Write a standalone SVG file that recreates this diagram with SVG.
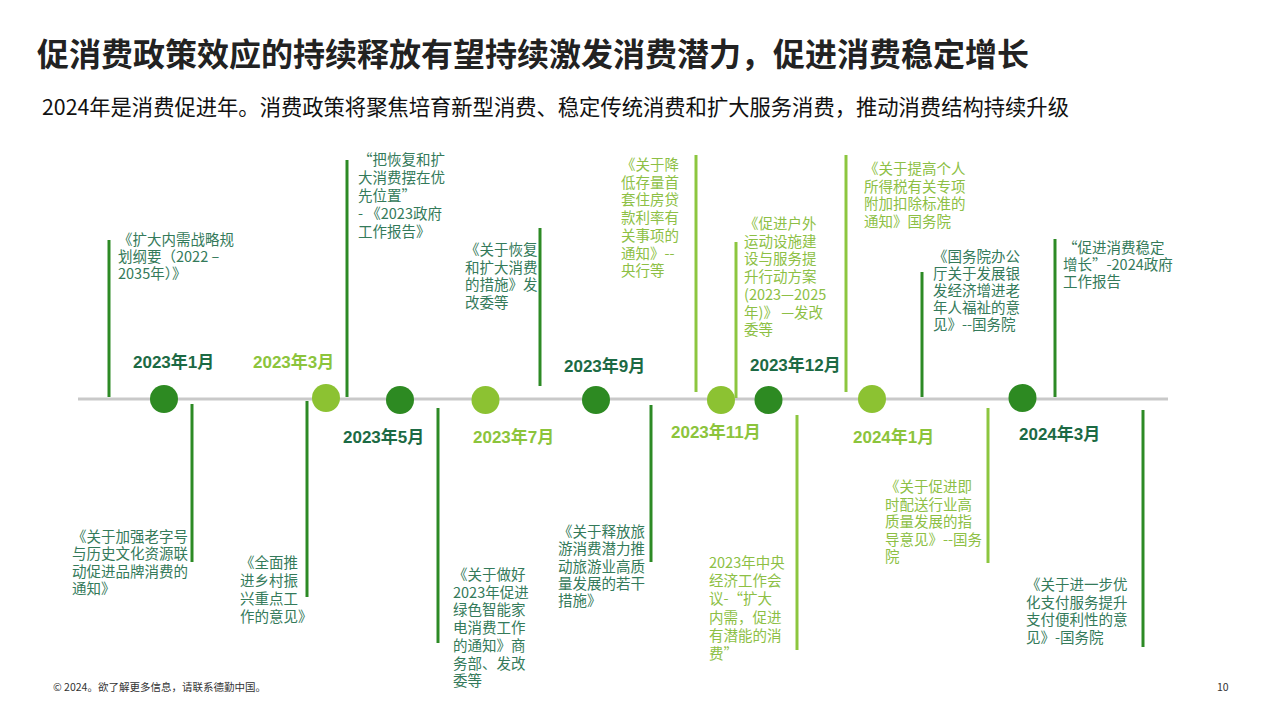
<svg xmlns="http://www.w3.org/2000/svg" width="1280" height="719" viewBox="0 0 1280 719">
<style>
text{font-family:"Noto Sans CJK SC","Liberation Sans",sans-serif}
.title{font-size:32px;font-weight:700;fill:#222}
.sub{font-size:21.3px;fill:#111}
.date{font-family:"Liberation Sans","Noto Sans CJK SC",sans-serif;font-size:17px;font-weight:700}
.dd{fill:#1c6a44}
.dl{fill:#8cc43c}
.ann{font-size:14.5px}
.ad{fill:#347a5a}
.al{fill:#8dbf45}
.cd{fill:#2d8a22}
.cl{fill:#8cc232}
.ld{stroke:#2d8a25;stroke-width:3;fill:none}
.ll{stroke:#8cc63f;stroke-width:3;fill:none}
.foot{font-size:10.5px;fill:#333}
</style>
<rect width="1280" height="719" fill="#fff"/>
<text class="title" x="37" y="66">促消费政策效应的持续释放有望持续激发消费潜力，促进消费稳定增长</text>
<text class="sub" x="42" y="115">2024年是消费促进年。消费政策将聚焦培育新型消费、稳定传统消费和扩大服务消费，推动消费结构持续升级</text>

<line x1="78" y1="399" x2="1168" y2="399" stroke="#c9c9c9" stroke-width="3"/>

<g id="connectors">
<line class="ld" x1="109" y1="240" x2="109" y2="397"/>
<line class="ld" x1="347" y1="160" x2="347" y2="397"/>
<line class="ld" x1="540" y1="228" x2="540" y2="386"/>
<line class="ll" x1="696" y1="155" x2="696" y2="392"/>
<line class="ll" x1="736" y1="242" x2="736" y2="398"/>
<line class="ll" x1="846" y1="155" x2="846" y2="392"/>
<line class="ld" x1="922" y1="272" x2="922" y2="397"/>
<line class="ld" x1="1055" y1="239" x2="1055" y2="397"/>
<line class="ld" x1="192" y1="404" x2="192" y2="562"/>
<line class="ld" x1="307" y1="401" x2="307" y2="597"/>
<line class="ld" x1="438" y1="408" x2="438" y2="643"/>
<line class="ld" x1="651" y1="405" x2="651" y2="562"/>
<line class="ll" x1="797" y1="415" x2="797" y2="650"/>
<line class="ll" x1="988" y1="408" x2="988" y2="563"/>
<line class="ld" x1="1143" y1="410" x2="1143" y2="647"/>
</g>

<g id="n-2023-01"><circle class="cd" cx="164" cy="399" r="14"/><text class="date dd" x="133" y="368">2023年1月</text></g>
<g id="n-2023-03"><circle class="cl" cx="326" cy="398" r="14"/><text class="date dl" x="253" y="368">2023年3月</text></g>
<g id="n-2023-05"><circle class="cd" cx="400" cy="400" r="14"/><text class="date dd" x="343" y="443">2023年5月</text></g>
<g id="n-2023-07"><circle class="cl" cx="485.5" cy="400" r="14"/><text class="date dl" x="473" y="443">2023年7月</text></g>
<g id="n-2023-09"><circle class="cd" cx="596" cy="400" r="14"/><text class="date dd" x="564" y="372">2023年9月</text></g>
<g id="n-2023-11"><circle class="cl" cx="721" cy="400" r="14"/><text class="date dl" x="671" y="438">2023年11月</text></g>
<g id="n-2023-12"><circle class="cd" cx="768.5" cy="400" r="14"/><text class="date dd" x="750" y="371">2023年12月</text></g>
<g id="n-2024-01"><circle class="cl" cx="872" cy="399" r="14"/><text class="date dl" x="853" y="443">2024年1月</text></g>
<g id="n-2024-03"><circle class="cd" cx="1022.5" cy="398" r="14"/><text class="date dd" x="1019" y="440">2024年3月</text></g>

<g id="a1"><text class="ann ad" x="118" y="245"><tspan x="118">《扩大内需战略规</tspan><tspan x="118" dy="17">划纲要（2022 –</tspan><tspan x="118" dy="17">2035年）》</tspan></text></g>
<g id="a2"><text class="ann ad" x="358" y="165"><tspan x="358">“把恢复和扩</tspan><tspan x="358" dy="18">大消费摆在优</tspan><tspan x="358" dy="18">先位置”</tspan><tspan x="358" dy="18">- 《2023政府</tspan><tspan x="358" dy="18">工作报告》</tspan></text></g>
<g id="a3"><text class="ann ad" x="465" y="255"><tspan x="465">《关于恢复</tspan><tspan x="465" dy="17.5">和扩大消费</tspan><tspan x="465" dy="17.5">的措施》发</tspan><tspan x="465" dy="17.5">改委等</tspan></text></g>
<g id="a4"><text class="ann al" x="621" y="170"><tspan x="621">《关于降</tspan><tspan x="621" dy="17.7">低存量首</tspan><tspan x="621" dy="17.7">套住房贷</tspan><tspan x="621" dy="17.7">款利率有</tspan><tspan x="621" dy="17.7">关事项的</tspan><tspan x="621" dy="17.7">通知》--</tspan><tspan x="621" dy="17.7">央行等</tspan></text></g>
<g id="a5"><text class="ann al" x="744" y="229"><tspan x="744">《促进户外</tspan><tspan x="744" dy="17.7">运动设施建</tspan><tspan x="744" dy="17.7">设与服务提</tspan><tspan x="744" dy="17.7">升行动方案</tspan><tspan x="744" dy="17.7">(2023—2025</tspan><tspan x="744" dy="17.7">年)》 —发改</tspan><tspan x="744" dy="17.7">委等</tspan></text></g>
<g id="a6"><text class="ann al" x="864" y="174"><tspan x="864">《关于提高个人</tspan><tspan x="864" dy="17.7">所得税有关专项</tspan><tspan x="864" dy="17.7">附加扣除标准的</tspan><tspan x="864" dy="17.7">通知》国务院</tspan></text></g>
<g id="a7"><text class="ann ad" x="933" y="262"><tspan x="933">《国务院办公</tspan><tspan x="933" dy="17">厅关于发展银</tspan><tspan x="933" dy="17">发经济增进老</tspan><tspan x="933" dy="17">年人福祉的意</tspan><tspan x="933" dy="17">见》--国务院</tspan></text></g>
<g id="a8"><text class="ann ad" x="1063" y="253"><tspan x="1063">“促进消费稳定</tspan><tspan x="1063" dy="17">增长”-2024政府</tspan><tspan x="1063" dy="17">工作报告</tspan></text></g>
<g id="a9"><text class="ann ad" x="72" y="542"><tspan x="72">《关于加强老字号</tspan><tspan x="72" dy="17.3">与历史文化资源联</tspan><tspan x="72" dy="17.3">动促进品牌消费的</tspan><tspan x="72" dy="17.3">通知》</tspan></text></g>
<g id="a10"><text class="ann ad" x="240" y="568"><tspan x="240">《全面推</tspan><tspan x="240" dy="18">进乡村振</tspan><tspan x="240" dy="18">兴重点工</tspan><tspan x="240" dy="18">作的意见》</tspan></text></g>
<g id="a11"><text class="ann ad" x="453" y="580"><tspan x="453">《关于做好</tspan><tspan x="453" dy="17.7">2023年促进</tspan><tspan x="453" dy="17.7">绿色智能家</tspan><tspan x="453" dy="17.7">电消费工作</tspan><tspan x="453" dy="17.7">的通知》商</tspan><tspan x="453" dy="17.7">务部、发改</tspan><tspan x="453" dy="17.7">委等</tspan></text></g>
<g id="a12"><text class="ann ad" x="558" y="537"><tspan x="558">《关于释放旅</tspan><tspan x="558" dy="17.3">游消费潜力推</tspan><tspan x="558" dy="17.3">动旅游业高质</tspan><tspan x="558" dy="17.3">量发展的若干</tspan><tspan x="558" dy="17.3">措施》</tspan></text></g>
<g id="a13"><text class="ann al" x="709" y="568"><tspan x="709">2023年中央</tspan><tspan x="709" dy="18.2">经济工作会</tspan><tspan x="709" dy="18.2">议-“扩大</tspan><tspan x="709" dy="18.2">内需，促进</tspan><tspan x="709" dy="18.2">有潜能的消</tspan><tspan x="709" dy="18.2">费”</tspan></text></g>
<g id="a14"><text class="ann al" x="885" y="492"><tspan x="885">《关于促进即</tspan><tspan x="885" dy="17.5">时配送行业高</tspan><tspan x="885" dy="17.5">质量发展的指</tspan><tspan x="885" dy="17.5">导意见》--国务</tspan><tspan x="885" dy="17.5">院</tspan></text></g>
<g id="a15"><text class="ann ad" x="1026" y="590"><tspan x="1026">《关于进一步优</tspan><tspan x="1026" dy="17.7">化支付服务提升</tspan><tspan x="1026" dy="17.7">支付便利性的意</tspan><tspan x="1026" dy="17.7">见》-国务院</tspan></text></g>

<text class="foot" x="53" y="691">© 2024。欲了解更多信息，请联系德勤中国。</text>
<text class="foot" x="1217" y="691">10</text>
</svg>
